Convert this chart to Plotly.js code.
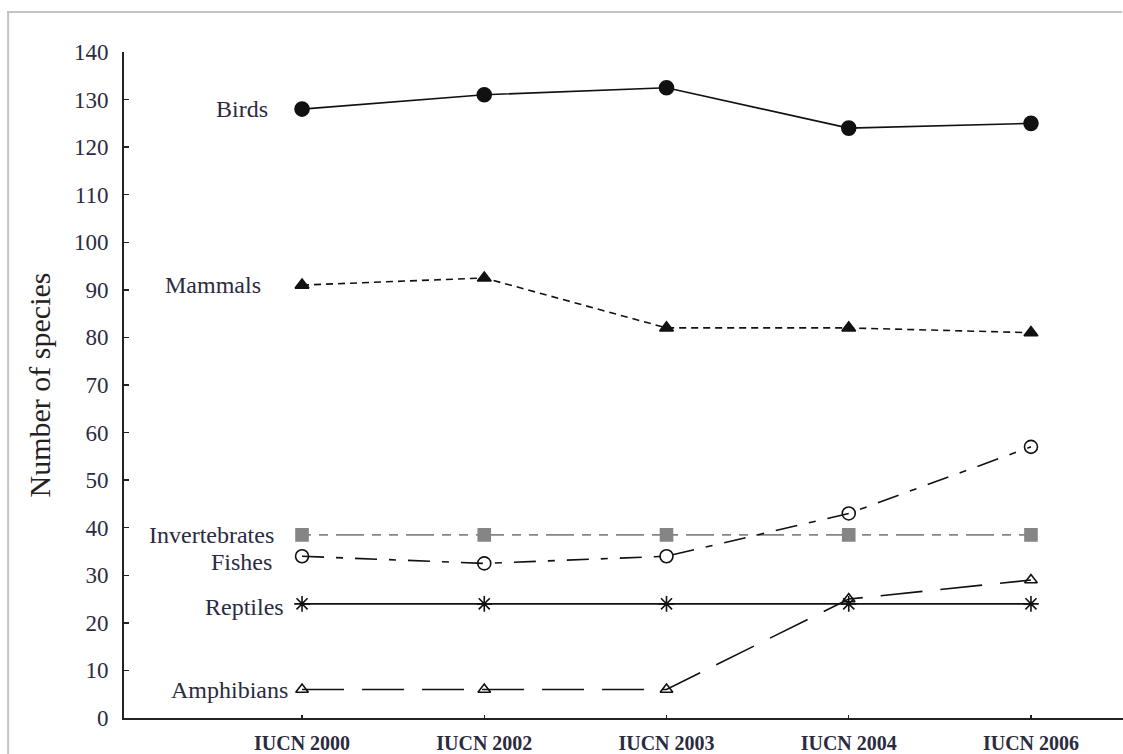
<!DOCTYPE html>
<html>
<head>
<meta charset="utf-8">
<script src="https://cdn.plot.ly/plotly-3.0.1.min.js"></script>
<style>
  html, body { margin: 0; padding: 0; background: #fff; overflow: hidden; }
  #chart { width: 1123px; height: 754px; }
</style>
</head>
<body>
<div id="chart"></div>
<script>
const categories = ["IUCN 2000", "IUCN 2002", "IUCN 2003", "IUCN 2004", "IUCN 2006"];
const birds = [128, 131, 132.5, 124, 125];
const mammals = [91, 92.5, 82, 82, 81];
const invertebrates = [38.5, 38.5, 38.5, 38.5, 38.5];
const fishes = [34, 32.5, 34, 43, 57];
const reptiles = [24, 24, 24, 24, 24];
const amphibians = [6, 6, 6, 25, 29];
const yTicks = [0, 10, 20, 30, 40, 50, 60, 70, 80, 90, 100, 110, 120, 130, 140];

const serif = "Liberation Serif, Times New Roman, serif";

const series = [
  {name: "Birds", y: birds, color: "#111", dash: "solid", symbol: "circle", size: 14, labShift: -32, labY: 0},
  {name: "Mammals", y: mammals, color: "#111", dash: "7px,5px", symbol: "triangle-up", size: 12, labShift: -39, labY: 0},
  {name: "Invertebrates", y: invertebrates, color: "#858585", dash: "9px,8px,9px,8px,28px,8px", symbol: "square", size: 12, labShift: -26, labY: 0},
  {name: "Fishes", y: fishes, color: "#111", dash: "22px,12px,7px,12px", symbol: "circle-open", size: 13, labShift: -28, labY: -6},
  {name: "Reptiles", y: reptiles, color: "#111", dash: "solid", symbol: "asterisk-open", size: 13, labShift: -16, labY: -3},
  {name: "Amphibians", y: amphibians, color: "#111", dash: "42px,18px", symbol: "triangle-up-open", size: 11, labShift: -12, labY: -1}
];

const traces = series.map(s => ({
  type: "scatter",
  mode: "lines+markers",
  x: categories,
  y: s.y,
  name: s.name,
  line: {color: s.color, width: 1.6, dash: s.dash},
  marker: {symbol: s.symbol, size: s.size, color: s.color, line: {color: s.color, width: 1.6}},
  cliponaxis: false
}));

const annotations = series.map(s => ({
  x: categories[0], y: s.y[0], xref: "x", yref: "y",
  text: s.name, showarrow: false, xanchor: "right", yanchor: "middle",
  xshift: s.labShift, yshift: s.labY,
  font: {family: serif, size: 24, color: "#2b2b40"}
}));

// thin grey page frame (top and left edges) drawn as filled strips
const frame = [
  {type: "rect", xref: "paper", yref: "paper", x0: -0.117, x1: 0.999, y0: 1.0586, y1: 1.0616, fillcolor: "#c4c4c4", line: {width: 0}},
  {type: "rect", xref: "paper", yref: "paper", x0: -0.117, x1: -0.115, y0: 1.0616, y1: -0.054, fillcolor: "#c4c4c4", line: {width: 0}}
];

const layout = {
  width: 1123, height: 754,
  margin: {l: 124, r: 0, t: 52, b: 36},
  paper_bgcolor: "#fff", plot_bgcolor: "#fff",
  showlegend: false,
  font: {family: serif, color: "#222"},
  xaxis: {
    type: "category",
    range: [-0.977, 4.505],
    showgrid: false, zeroline: false,
    showline: true, linecolor: "#222", linewidth: 2,
    ticks: "inside", ticklen: 3, tickwidth: 1.5, tickcolor: "#222",
    tickfont: {family: serif, size: 20, color: "#2b2b40", weight: "bold"},
    ticklabelstandoff: 6
  },
  yaxis: {
    range: [0, 140],
    tickvals: yTicks,
    ticktext: yTicks.map(String),
    showgrid: false, zeroline: false,
    showline: true, linecolor: "#222", linewidth: 2,
    ticks: "inside", ticklen: 5, tickwidth: 1.5, tickcolor: "#222",
    tickfont: {family: serif, size: 23, color: "#2b2b40"},
    ticklabelstandoff: 9,
    title: {text: "Number of species", font: {family: serif, size: 30, color: "#222"}, standoff: 14}
  },
  shapes: frame,
  annotations: annotations
};

Plotly.newPlot("chart", traces, layout, {displayModeBar: false, staticPlot: true});
</script>
</body>
</html>
